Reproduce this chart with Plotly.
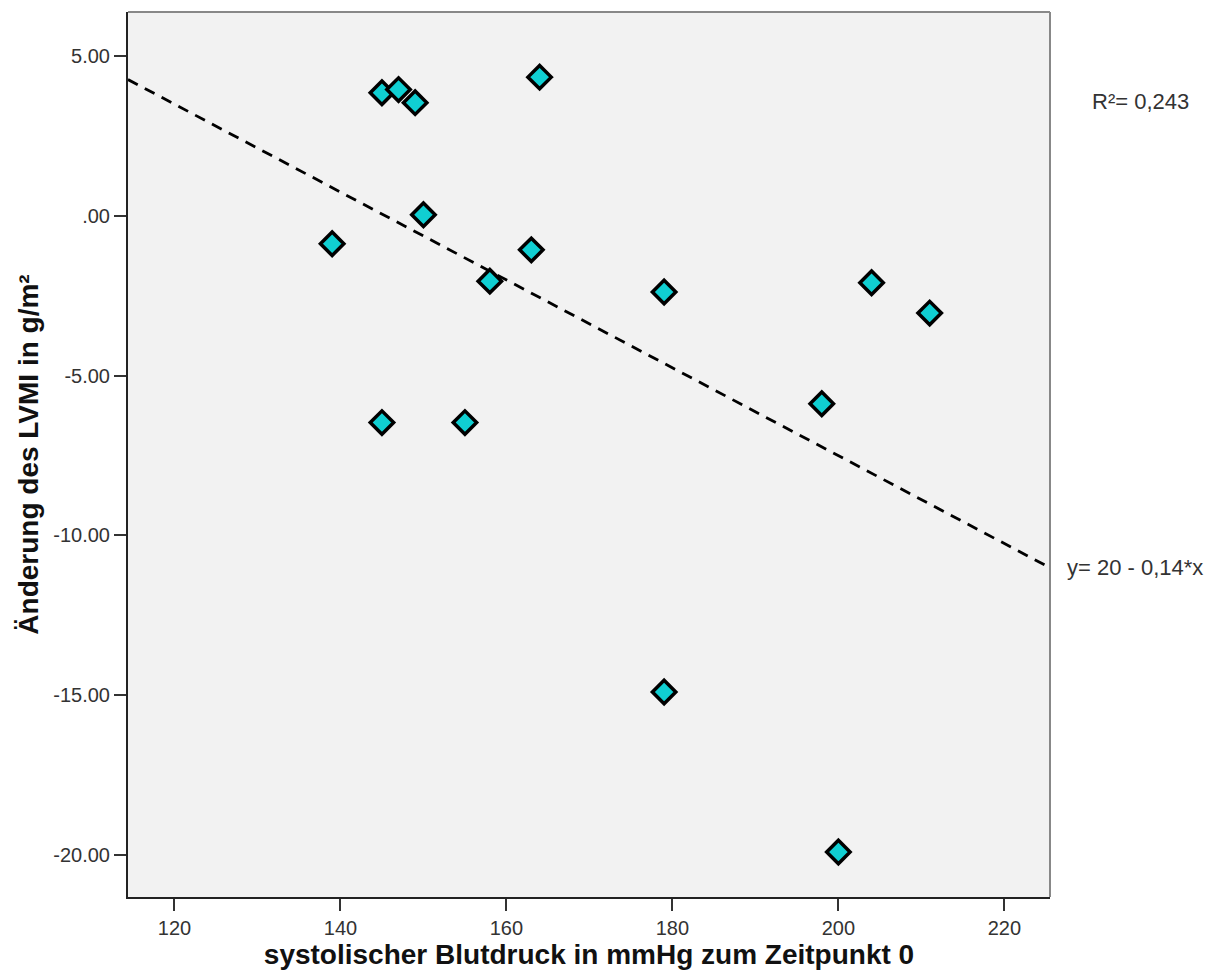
import numpy as np
import plotly.graph_objects as go

# systolic blood pressure at time 0 (mmHg)
sbp = [139, 145, 147, 149, 150, 145, 155, 158, 163, 164, 179, 179, 198, 204, 211, 200]
# change in LVMI (g/m²)
dlvmi = [-0.87, 3.86, 3.96, 3.55, 0.04, -6.47, -6.47, -2.04, -1.06, 4.35,
         -2.38, -14.91, -5.88, -2.09, -3.04, -19.92]

x_ticks = [120, 140, 160, 180, 200, 220]
y_ticks = [5, 0, -5, -10, -15, -20]
y_ticklabels = ["5.00", ".00", "-5.00", "-10.00", "-15.00", "-20.00"]

x_range = [114.4, 225.5]
y_range = [-21.33, 6.39]

slope, intercept = np.polyfit(sbp, dlvmi, 1)
fit_x = np.array(x_range)
fit_y = intercept + slope * fit_x

font_family = "Arial, Liberation Sans, sans-serif"

fig = go.Figure()
fig.add_trace(go.Scatter(
    x=fit_x, y=fit_y, mode="lines",
    line=dict(color="black", width=2.8, dash="11px,8px"),
    hoverinfo="skip", showlegend=False,
))
fig.add_trace(go.Scatter(
    x=sbp, y=dlvmi, mode="markers",
    marker=dict(symbol="diamond", size=18, color="#10CFD2",
                line=dict(color="black", width=3.5)),
    showlegend=False,
))

fig.update_layout(
    width=1220, height=978,
    margin=dict(l=128, r=170, t=12, b=81),
    paper_bgcolor="white",
    plot_bgcolor="#F2F2F2",
    font=dict(family=font_family, color="#222222"),
    xaxis=dict(
        range=x_range, tickvals=x_ticks, ticks="outside", ticklen=12,
        tickwidth=1.5, tickcolor="#333333", showgrid=False, zeroline=False,
        showline=True, linecolor="#222222", linewidth=2, mirror=False,
        tickfont=dict(size=20, color="#333333"),
        title=dict(text="<b>systolischer Blutdruck in mmHg zum Zeitpunkt 0</b>",
                   font=dict(size=28, color="#111111"), standoff=6),
    ),
    yaxis=dict(
        range=y_range, tickvals=y_ticks, ticktext=y_ticklabels, ticks="outside",
        ticklen=12, tickwidth=1.5, tickcolor="#333333", showgrid=False,
        zeroline=False, showline=True, linecolor="#222222", linewidth=2,
        tickfont=dict(size=20, color="#333333"),
        title=dict(text="<b>Änderung des LVMI in g/m²</b>",
                   font=dict(size=28, color="#111111"), standoff=6),
    ),
    shapes=[
        dict(type="line", xref="paper", yref="paper", x0=0, x1=1, y0=1, y1=1,
             line=dict(color="#888888", width=2)),
        dict(type="line", xref="paper", yref="paper", x0=1, x1=1, y0=0, y1=1,
             line=dict(color="#888888", width=2)),
    ],
    annotations=[
        dict(text="R²= 0,243", xref="paper", yref="y", x=1.0, y=3.6,
             xanchor="left", xshift=40, showarrow=False,
             font=dict(size=22, color="#333333")),
        dict(text="y= 20 - 0,14*x", xref="paper", yref="y", x=1.0,
             y=float(fit_y[-1]), xanchor="left", xshift=15, showarrow=False,
             font=dict(size=22, color="#333333")),
    ],
)

fig.write_html("out.html")
